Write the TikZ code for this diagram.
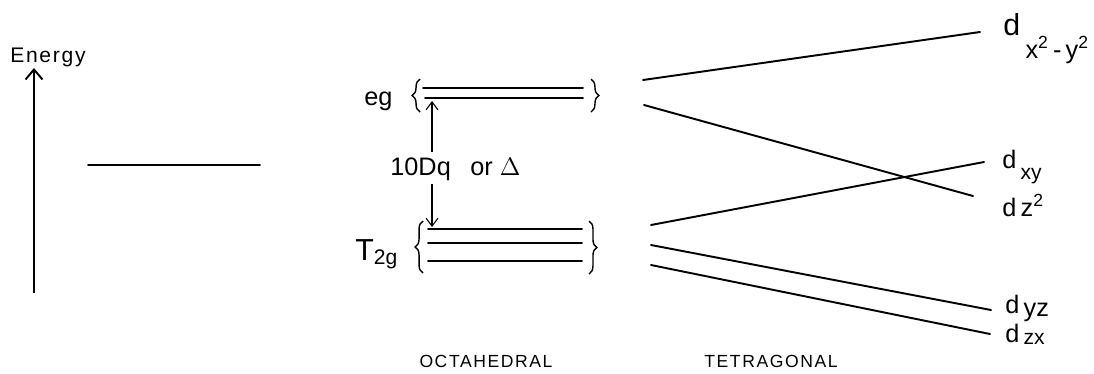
\documentclass[tikz,border=0pt]{standalone}
\usepackage{fontspec}
\setmainfont{Liberation Sans}
\usetikzlibrary{arrows.meta,decorations.pathreplacing}
\newcommand{\lowsub}[2][0.22cm]{\raisebox{-#1}{\large #2}}

\begin{document}
\begin{tikzpicture}[x=0.02cm, y=-0.02cm,
    lvl/.style={line width=1.1pt, line cap=round},
    corr/.style={line width=1.1pt, line cap=round},
    enax/.style={-{Straight Barb[length=2mm,width=3.4mm]}, line width=1.1pt},
    gap/.style={-{Straight Barb[length=1.6mm,width=2.4mm]}, line width=0.6pt},
    lbrace/.style={decorate, decoration={brace, amplitude=4.5pt}, line width=0.8pt},
    orb/.style={font=\Large, inner sep=0pt, anchor=base west},
    sym/.style={inner sep=0pt, anchor=base west},
    title/.style={font=\normalsize\addfontfeatures{LetterSpace=9}, inner sep=0pt}
]
\useasboundingbox (0,0) rectangle (1094,373);

% energy axis and free ion level
\node[sym, font=\large\addfontfeatures{LetterSpace=8}] (energy) at (10,62) {Energy};
\coordinate (ax0) at (34,293);
\coordinate (ax1) at (34,68);
\draw[enax] (ax0) -- (ax1);
\coordinate (free0) at (88,165);
\coordinate (free1) at (260,165);
\draw[lvl] (free0) -- (free1);

% octahedral levels
\coordinate (ega0) at (423,88);  \coordinate (ega1) at (583,88);
\coordinate (egb0) at (425,98);  \coordinate (egb1) at (583,98);
\coordinate (ta0) at (428,229);  \coordinate (ta1) at (582,229);
\coordinate (tb0) at (428,243);  \coordinate (tb1) at (582,243);
\coordinate (tc0) at (428,261);  \coordinate (tc1) at (582,261);
\foreach \a/\b in {ega0/ega1, egb0/egb1, ta0/ta1, tb0/tb1, tc0/tc1}
    \draw[lvl] (\a) -- (\b);
\draw[lbrace] (420,112) -- (420,79);
\draw[lbrace] (591,79) -- (591,112);
\draw[lbrace] (423,273) -- (423,221);
\draw[lbrace] (589,221) -- (589,274);
\node[sym, font=\Large] (eg) at (364,105) {eg};
\node[sym, font=\LARGE] (t2g) at (355,260) {T\textsubscript{2g}};

% splitting
\node[sym, font=\Large] (dq) at (390,175) {10Dq};
\node[sym, font=\Large] (delta) at (470,175) {or $\Delta$};
\coordinate (dqa) at (432,152);
\coordinate (dqtop) at (432,101);
\coordinate (dqb) at (432,184);
\coordinate (dqbot) at (432,227);
\draw[gap] (dqa) -- (dqtop);
\draw[gap] (dqb) -- (dqbot);

% tetragonal levels
\coordinate (c1a) at (643,80);   \coordinate (c1b) at (980,32);
\coordinate (c2a) at (644,105);  \coordinate (c2b) at (973,196);
\coordinate (c3a) at (651,225);  \coordinate (c3b) at (984,162);
\coordinate (c4a) at (651,245);  \coordinate (c4b) at (991,310);
\coordinate (c5a) at (651,265);  \coordinate (c5b) at (990,334);
\foreach \i in {1,...,5}
    \draw[corr] (c\i a) -- (c\i b);

\node[orb, font=\LARGE] (dx2y2) at (1003,35)
    {d\hspace{3pt}\raisebox{-0.46cm}{\Large x\textsuperscript{2}\,-\,y\textsuperscript{2}}};
\node[orb] (dxy) at (1002,168) {d\,\lowsub{xy}};
\node[orb] (dz2) at (1002,216) {d\,z\textsuperscript{2}};
\node[orb] (dyz) at (1005,313) {d\,\lowsub[0.06cm]{\Large yz}};
\node[orb] (dzx) at (1005,342) {d\,\lowsub[0.04cm]{zx}};

\node[title] (octa) at (486,361) {OCTAHEDRAL};
\node[title] (tetra) at (771,361) {TETRAGONAL};
\end{tikzpicture}
\end{document}
